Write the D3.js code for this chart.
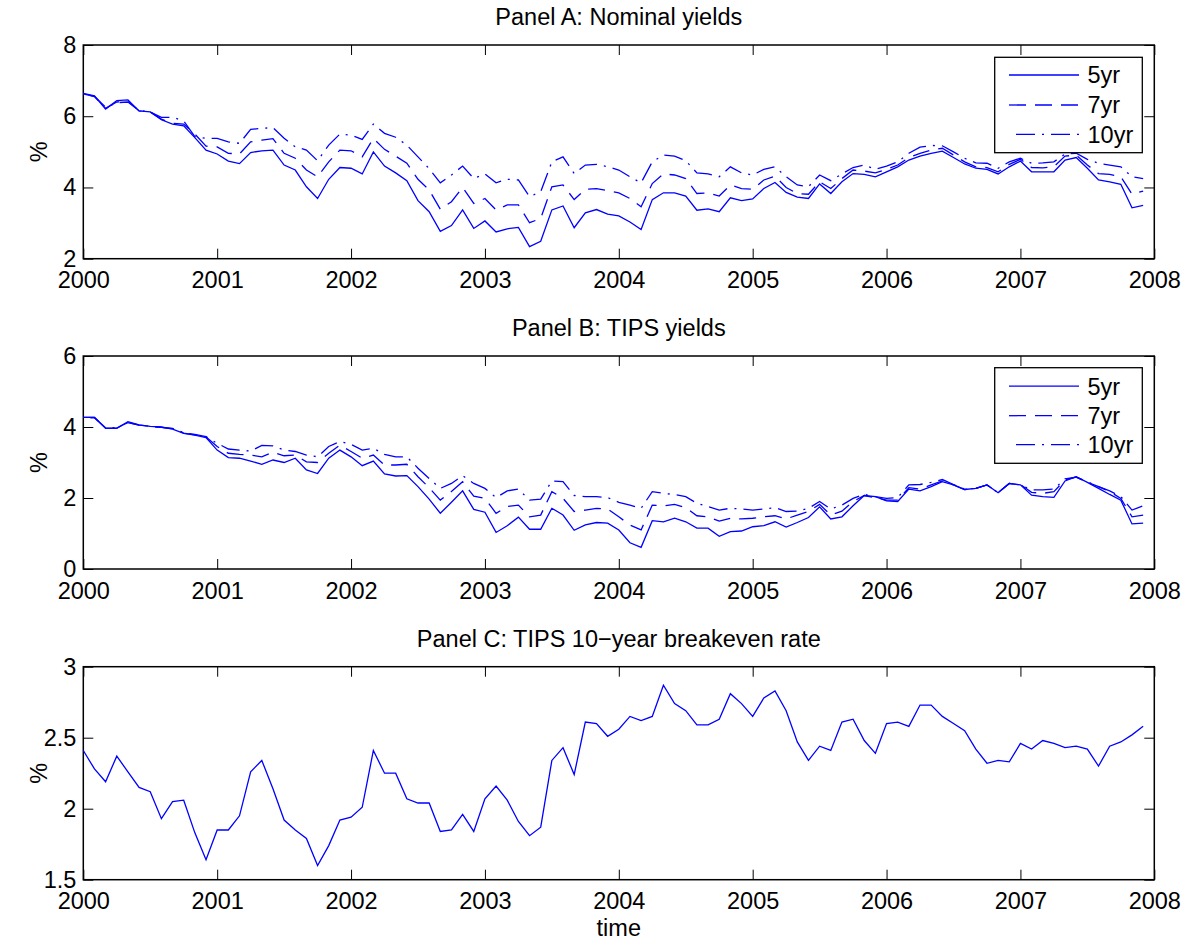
<!DOCTYPE html>
<html>
<head>
<meta charset="utf-8">
<script src="https://cdn.jsdelivr.net/npm/d3@7"></script>
<style>
  html, body { margin: 0; padding: 0; background: #fff; }
  svg { display: block; }
  text { font-family: "Liberation Sans", Arial, Helvetica, sans-serif; fill: #000; }
</style>
</head>
<body>
<svg id="chart" width="1190" height="943"></svg>
<script>
// ---------------- DATA (monthly, Jan 2000 .. Dec 2007) ----------------
const startYear = 2000;
const xTickYears = [2000, 2001, 2002, 2003, 2004, 2005, 2006, 2007, 2008];
const seriesNames = ["5yr", "7yr", "10yr"];

const nominal5 = [6.64,6.57,6.20,6.44,6.46,6.15,6.12,5.90,5.78,5.73,5.40,5.05,
  4.94,4.74,4.67,4.98,5.03,5.05,4.63,4.49,4.02,3.69,4.23,4.56,
  4.54,4.38,5.00,4.60,4.41,4.19,3.63,3.32,2.77,2.93,3.37,2.85,
  3.06,2.75,2.84,2.88,2.34,2.49,3.37,3.48,2.87,3.29,3.38,3.25,
  3.20,3.03,2.82,3.66,3.85,3.85,3.76,3.36,3.40,3.32,3.71,3.63,
  3.68,3.97,4.14,3.86,3.73,3.69,4.10,3.83,4.16,4.39,4.37,4.30,
  4.44,4.58,4.77,4.88,4.96,5.02,4.84,4.66,4.54,4.51,4.38,4.58,
  4.74,4.44,4.44,4.44,4.77,4.84,4.54,4.21,4.16,4.09,3.43,3.50];
const nominal7 = [6.63,6.55,6.22,6.40,6.42,6.15,6.12,5.92,5.80,5.78,5.50,5.16,
  5.14,4.96,4.94,5.28,5.33,5.37,4.96,4.82,4.49,4.30,4.72,5.05,
  5.03,4.86,5.38,5.07,4.88,4.68,4.23,3.93,3.39,3.60,4.00,3.55,
  3.69,3.37,3.51,3.51,3.01,3.13,4.02,4.07,3.66,3.95,3.97,3.91,
  3.85,3.69,3.46,4.11,4.38,4.35,4.25,3.83,3.85,3.76,4.07,3.97,
  3.95,4.21,4.32,4.00,3.83,3.81,4.16,3.97,4.25,4.49,4.46,4.41,
  4.51,4.63,4.84,4.96,5.05,5.10,4.91,4.72,4.58,4.56,4.44,4.65,
  4.79,4.56,4.55,4.58,4.88,4.91,4.63,4.39,4.37,4.30,3.81,3.90];
const nominal10 = [6.62,6.56,6.25,6.38,6.40,6.16,6.12,5.97,5.97,5.87,5.43,5.38,
  5.38,5.28,5.24,5.63,5.66,5.68,5.38,5.14,5.05,4.75,5.19,5.50,
  5.47,5.35,5.78,5.52,5.41,5.19,4.86,4.53,4.13,4.35,4.60,4.25,
  4.38,4.13,4.23,4.21,3.74,3.88,4.72,4.86,4.39,4.63,4.65,4.58,
  4.49,4.30,4.13,4.72,4.91,4.88,4.75,4.41,4.38,4.30,4.58,4.41,
  4.35,4.51,4.58,4.30,4.07,4.02,4.35,4.19,4.38,4.56,4.63,4.51,
  4.60,4.72,4.96,5.13,5.18,5.17,5.00,4.82,4.69,4.68,4.54,4.72,
  4.82,4.68,4.69,4.72,4.94,4.96,4.79,4.68,4.63,4.58,4.30,4.25];

const tips5 = [4.27,4.27,3.96,3.96,4.15,4.06,4.02,4.00,3.94,3.82,3.77,3.70,
  3.35,3.14,3.12,3.04,2.95,3.07,3.00,3.12,2.79,2.69,3.12,3.35,
  3.16,2.91,3.04,2.68,2.62,2.63,2.32,1.97,1.57,1.88,2.20,1.68,
  1.60,1.03,1.22,1.46,1.12,1.12,1.71,1.52,1.09,1.24,1.31,1.29,
  1.10,0.74,0.61,1.36,1.33,1.43,1.33,1.15,1.15,0.92,1.05,1.07,
  1.19,1.22,1.33,1.18,1.31,1.45,1.75,1.41,1.47,1.78,2.07,2.04,
  1.92,1.90,2.25,2.20,2.32,2.46,2.37,2.24,2.27,2.37,2.15,2.41,
  2.37,2.08,2.04,2.02,2.48,2.60,2.44,2.27,2.10,1.94,1.27,1.29];
const tips7 = [4.27,4.27,3.97,3.97,4.13,4.05,4.02,3.99,3.95,3.83,3.78,3.72,
  3.45,3.26,3.23,3.21,3.16,3.29,3.19,3.21,3.02,3.00,3.26,3.49,
  3.31,3.12,3.21,2.93,2.93,2.95,2.60,2.29,1.94,2.18,2.46,2.05,
  1.99,1.57,1.76,1.80,1.47,1.52,2.18,1.99,1.62,1.66,1.71,1.69,
  1.47,1.24,1.10,1.80,1.78,1.82,1.73,1.50,1.47,1.35,1.43,1.41,
  1.43,1.47,1.50,1.41,1.52,1.62,1.82,1.52,1.63,1.90,2.07,2.01,
  1.94,1.94,2.29,2.25,2.37,2.48,2.37,2.24,2.27,2.37,2.15,2.41,
  2.38,2.16,2.13,2.18,2.51,2.59,2.44,2.32,2.18,1.99,1.47,1.52];
const tips10 = [4.26,4.26,3.98,3.98,4.12,4.05,4.02,3.99,3.96,3.84,3.79,3.73,
  3.54,3.38,3.35,3.32,3.48,3.47,3.35,3.31,3.21,3.16,3.45,3.59,
  3.51,3.35,3.40,3.23,3.16,3.16,2.84,2.55,2.27,2.41,2.63,2.41,
  2.27,2.01,2.20,2.25,1.94,1.97,2.48,2.46,2.07,2.04,2.04,2.01,
  1.88,1.80,1.71,2.18,2.13,2.10,2.04,1.85,1.76,1.66,1.71,1.69,
  1.66,1.69,1.73,1.62,1.63,1.71,1.90,1.69,1.80,1.99,2.10,2.04,
  1.99,2.01,2.37,2.38,2.44,2.52,2.38,2.25,2.27,2.37,2.15,2.41,
  2.37,2.23,2.23,2.25,2.54,2.59,2.46,2.32,2.20,2.04,1.66,1.78];

const breakeven10 = [2.41,2.28,2.19,2.37,2.26,2.15,2.12,1.93,2.05,2.06,1.83,1.64,
  1.85,1.85,1.95,2.26,2.34,2.14,1.92,1.85,1.79,1.60,1.74,1.92,
  1.94,2.01,2.41,2.25,2.25,2.07,2.04,2.04,1.84,1.85,1.96,1.84,
  2.07,2.16,2.06,1.91,1.81,1.87,2.34,2.43,2.24,2.61,2.60,2.51,
  2.56,2.65,2.62,2.65,2.87,2.74,2.69,2.59,2.59,2.63,2.81,2.74,
  2.65,2.78,2.83,2.69,2.47,2.34,2.44,2.41,2.61,2.63,2.48,2.39,
  2.60,2.61,2.58,2.73,2.73,2.65,2.60,2.55,2.42,2.32,2.34,2.33,
  2.46,2.42,2.48,2.46,2.43,2.44,2.42,2.30,2.44,2.47,2.52,2.58];

const yTicksA = [2, 4, 6, 8];
const yTicksB = [0, 2, 4, 6];
const yTicksC = [1.5, 2, 2.5, 3];

// ---------------- LAYOUT ----------------
const svg = d3.select("#chart");
const L = 83.3, R = 1154.3;
const FONT = 23.5;
const blue = "#0000ff";
const dashes = [null, "17,9", "19,7,2,7"];
const dashOffsets = [0, 0, 28];

const x = d3.scaleLinear().domain([2000, 2008]).range([L, R]);
const timeOf = i => startYear + i / 12;

const panels = [
  { title: "Panel A: Nominal yields", top: 45, bottom: 258.7, domain: [2, 8], ticks: yTicksA,
    series: [nominal5, nominal7, nominal10], legend: { y0: 57.3, y1: 152.7, rows: [17.7, 47.7, 77] }, titleY: 25 },
  { title: "Panel B: TIPS yields", top: 356, bottom: 569, domain: [0, 6], ticks: yTicksB,
    series: [tips5, tips7, tips10], legend: { y0: 367.7, y1: 463.3, rows: [18.5, 48, 77] }, titleY: 336 },
  { title: "Panel C: TIPS 10\u2212year breakeven rate", top: 666.7, bottom: 879.7, domain: [1.5, 3], ticks: yTicksC,
    series: [breakeven10], legend: null, titleY: 647 }
];

panels.forEach((p, pi) => {
  const y = d3.scaleLinear().domain(p.domain).range([p.bottom, p.top]);
  const g = svg.append("g");

  const styleAxis = sel => {
    sel.attr("font-family", null).attr("font-size", null);
    sel.select(".domain").remove();
    sel.selectAll(".tick line").attr("stroke", "#000").attr("stroke-width", 1);
    sel.selectAll(".tick text").style("font-size", FONT + "px").attr("fill", "#000");
  };
  g.append("g").attr("transform", `translate(0,${p.bottom})`)
    .call(d3.axisBottom(x).tickValues(xTickYears).tickFormat(d3.format("d")).tickSize(-10).tickPadding(13))
    .call(styleAxis);
  g.append("g").attr("transform", `translate(0,${p.top})`)
    .call(d3.axisTop(x).tickValues(xTickYears).tickFormat("").tickSize(-10))
    .call(styleAxis);
  g.append("g").attr("transform", `translate(${L},0)`)
    .call(d3.axisLeft(y).tickValues(p.ticks).tickFormat(d => String(d)).tickSize(-10).tickPadding(7))
    .call(styleAxis);
  g.append("g").attr("transform", `translate(${R},0)`)
    .call(d3.axisRight(y).tickValues(p.ticks).tickFormat("").tickSize(-10))
    .call(styleAxis);

  g.append("rect").attr("x", L).attr("y", p.top).attr("width", R - L).attr("height", p.bottom - p.top)
    .attr("fill", "none").attr("stroke", "#000").attr("stroke-width", 1.5);

  const line = d3.line().x((d, i) => x(timeOf(i))).y(d => y(d));
  p.series.forEach((s, si) => {
    const path = g.append("path").datum(s).attr("d", line)
      .attr("fill", "none").attr("stroke", blue).attr("stroke-width", 1.3)
      .attr("stroke-linejoin", "miter");
    if (dashes[si]) path.attr("stroke-dasharray", dashes[si]).attr("stroke-dashoffset", dashOffsets[si]);
  });

  g.append("text").attr("x", (L + R) / 2).attr("y", p.titleY).attr("text-anchor", "middle")
    .style("font-size", FONT + "px").text(p.title);

  g.append("text").attr("transform", `translate(46.5,${(p.top + p.bottom) / 2}) rotate(-90)`)
    .attr("text-anchor", "middle").style("font-size", FONT + "px").text("%");

  if (p.legend) {
    const lx0 = 994.7, lx1 = 1142.3;
    const lg = g.append("g");
    lg.append("rect").attr("x", lx0).attr("y", p.legend.y0).attr("width", lx1 - lx0)
      .attr("height", p.legend.y1 - p.legend.y0).attr("fill", "#fff").attr("stroke", "#000").attr("stroke-width", 1.3);
    seriesNames.forEach((name, si) => {
      const ry = p.legend.y0 + p.legend.rows[si];
      const ln = lg.append("line").attr("x1", 1009).attr("x2", 1079).attr("y1", ry).attr("y2", ry)
        .attr("stroke", blue).attr("stroke-width", 1.3);
      if (dashes[si]) ln.attr("stroke-dasharray", dashes[si]).attr("stroke-dashoffset", dashOffsets[si]);
      lg.append("text").attr("x", 1087.5).attr("y", ry).attr("dy", "0.36em")
        .style("font-size", FONT + "px").text(name);
    });
  }
});

svg.append("text").attr("x", (L + R) / 2).attr("y", 936).attr("text-anchor", "middle")
  .style("font-size", FONT + "px").text("time");
</script>
</body>
</html>
